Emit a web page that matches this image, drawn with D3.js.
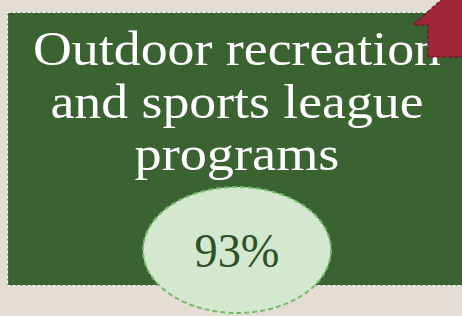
<!DOCTYPE html>
<html>
<head>
<meta charset="utf-8">
<script src="https://cdn.jsdelivr.net/npm/d3@7"></script>
<style>
  html, body { margin: 0; padding: 0; background: #e4ddd3; }
  svg { display: block; }
</style>
</head>
<body>
<svg id="chart"></svg>
<script>
const labelLines = ['Outdoor recreation', 'and sports league', 'programs']
const values = [93]
const valueFormat = d => `${d}%`

const width = 462
const height = 316

// rendered widths of each title line (layout, not data)
const lineWidths = [408, 373, 205]

const colours = {
    bg: '#e4ddd3',
    card: '#3b6332',
    text: '#ffffff',
    bubble: '#d3e8cf',
    bubbleStroke: '#74bb68',
    valueText: '#2c5226',
    arrow: '#9e2637',
    arrowStroke: '#74182a'
}

const svg = d3.select('#chart')
    .attr('width', width)
    .attr('height', height)

// card
svg.append('rect')
    .attr('x', 7.5)
    .attr('y', 12.5)
    .attr('width', 470)
    .attr('height', 273)
    .attr('fill', colours.card)
    .attr('stroke', colours.text)
    .attr('stroke-width', 1.2)
    .attr('stroke-dasharray', '3,2')

// title lines
const lineY = d3.scalePoint()
    .domain(labelLines)
    .range([65, 170])

svg.selectAll('.label')
    .data(labelLines)
    .join('text')
    .attr('class', 'label')
    .attr('x', 237)
    .attr('y', d => lineY(d))
    .attr('text-anchor', 'middle')
    .attr('fill', colours.text)
    .attr('textLength', (d, i) => lineWidths[i])
    .attr('lengthAdjust', 'spacingAndGlyphs')
    .style('font-family', '"Liberation Serif", serif')
    .style('font-size', '49px')
    .text(d => d)

// arrow marker in the corner
const arrow = d3.path()
arrow.moveTo(448, -6)
arrow.lineTo(413, 25)
arrow.lineTo(428, 25)
arrow.lineTo(428, 57)
arrow.lineTo(470, 57)
arrow.lineTo(470, -6)
arrow.closePath()

svg.append('path')
    .attr('d', arrow.toString())
    .attr('fill', colours.arrow)
    .attr('stroke', colours.arrowStroke)
    .attr('stroke-width', 1.5)
    .attr('stroke-dasharray', '4,2')

// value bubble
const bubble = svg.selectAll('.bubble')
    .data(values)
    .join('g')
    .attr('class', 'bubble')
    .attr('transform', 'translate(237,250)')

bubble.append('ellipse')
    .attr('rx', 94)
    .attr('ry', 63)
    .attr('fill', colours.bubble)
    .attr('stroke', colours.bubbleStroke)
    .attr('stroke-width', 2)
    .attr('stroke-dasharray', '5,3')

bubble.append('text')
    .attr('y', 17)
    .attr('text-anchor', 'middle')
    .attr('fill', colours.valueText)
    .attr('textLength', 85)
    .attr('lengthAdjust', 'spacingAndGlyphs')
    .style('font-family', '"Liberation Serif", serif')
    .style('font-size', '49px')
    .text(d => valueFormat(d))
</script>
</body>
</html>
